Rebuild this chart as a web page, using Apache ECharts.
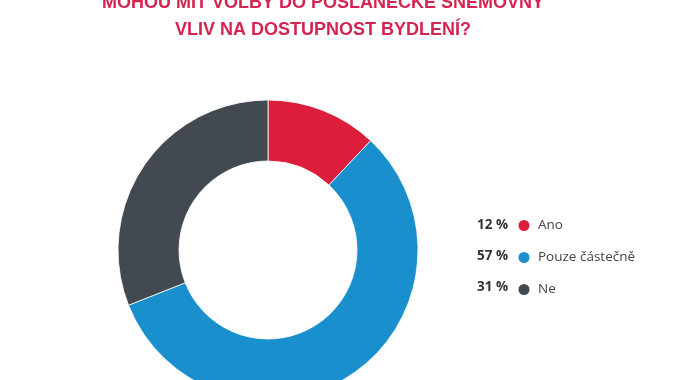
<!DOCTYPE html>
<html>
<head>
<meta charset="utf-8">
<script src="https://cdn.jsdelivr.net/npm/echarts@6/dist/echarts.min.js"></script>
<style>
html,body{margin:0;padding:0;background:#fff;}
#chart{width:674px;height:380px;}
</style>
</head>
<body>
<div id="chart"></div>
<script>
const titleLines = ['MOHOU MÍT VOLBY DO POSLANECKÉ SNĚMOVNY', 'VLIV NA DOSTUPNOST BYDLENÍ?'];
const categories = ['Ano', 'Pouze částečně', 'Ne'];
const values = [12, 57, 31];
const colors = ['#dc1e3c', '#1a8fce', '#434950'];

const chart = echarts.init(document.getElementById('chart'), null, {renderer: 'canvas'});
const pieData = categories.map((c, i) => ({name: c, value: values[i], itemStyle: {color: colors[i]}}));
const valueOf = {};
categories.forEach((c, i) => { valueOf[c] = values[i]; });

const titleStyle = {fontFamily: 'Liberation Sans', fontWeight: 'bold', fontSize: 18, color: '#d42550', lineHeight: 20};

chart.setOption({
  backgroundColor: '#ffffff',
  animation: false,
  title: titleLines.map((t, i) => ({
    text: t,
    left: 323,
    top: -6.5 + i * 27,
    textAlign: 'center',
    padding: 0,
    textStyle: titleStyle
  })),
  legend: [
    {
      orient: 'vertical',
      left: 467,
      top: 213,
      itemGap: 17,
      icon: 'none',
      itemWidth: 0,
      itemHeight: 13,
      selectedMode: false,
      data: categories,
      formatter: name => valueOf[name] + ' %',
      textStyle: {fontFamily: 'Open Sans', fontWeight: 'bold', fontSize: 13.5, color: '#333333', lineHeight: 14}
    },
    {
      orient: 'vertical',
      left: 511.5,
      top: 213,
      itemGap: 17,
      icon: 'circle',
      itemWidth: 13,
      itemHeight: 13,
      selectedMode: false,
      data: categories,
      textStyle: {fontFamily: 'Open Sans', fontSize: 13.5, color: '#444444', lineHeight: 14, padding: [0, 0, 0, 2.5]}
    }
  ],
  series: [{
    type: 'pie',
    center: [268, 250],
    radius: [89, 150],
    startAngle: 90,
    clockwise: true,
    label: {show: false},
    labelLine: {show: false},
    emphasis: {disabled: true},
    itemStyle: {borderColor: '#ffffff', borderWidth: 0.8},
    data: pieData
  }]
});
</script>
</body>
</html>
